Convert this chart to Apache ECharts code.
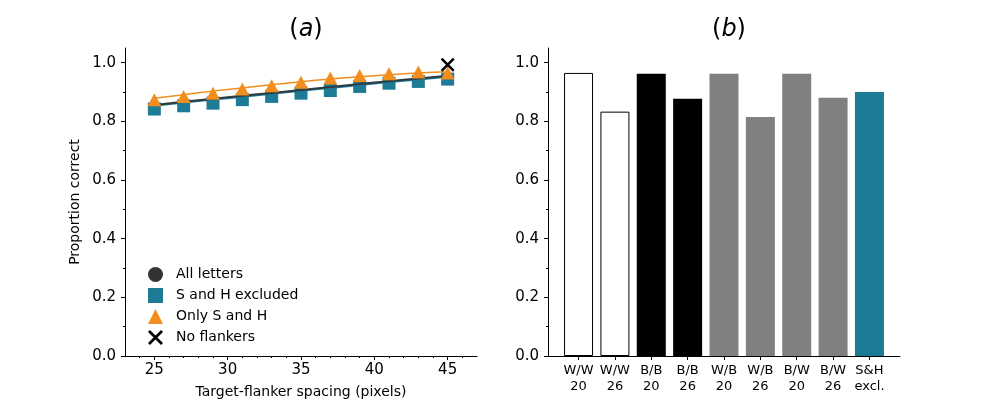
<!DOCTYPE html>
<html>
<head>
<meta charset="utf-8">
<script src="https://cdn.jsdelivr.net/npm/echarts@6/dist/echarts.min.js"></script>
<style>
  html, body { margin: 0; padding: 0; background: #fff; }
  #chart { width: 1000px; height: 400px; }
</style>
</head>
<body>
<div id="chart"></div>
<script>
// panel (a): spacing in pixels
const spacing = [25, 27, 29, 31, 33, 35, 37, 39, 41, 43, 45]
const shExcluded = [0.842, 0.853, 0.862, 0.874, 0.885, 0.896, 0.905, 0.919, 0.930, 0.936, 0.944]
const onlySH = [0.874, 0.885, 0.896, 0.910, 0.921, 0.933, 0.948, 0.956, 0.962, 0.968, 0.965]
const fitAll = [0.856, 0.867, 0.877, 0.887, 0.897, 0.907, 0.917, 0.927, 0.937, 0.946, 0.955]
const fitExcluded = [0.853, 0.864, 0.874, 0.884, 0.894, 0.904, 0.914, 0.924, 0.934, 0.943, 0.952]
const fitOnly = [0.879, 0.891, 0.903, 0.914, 0.925, 0.935, 0.944, 0.952, 0.959, 0.965, 0.969]
const noFlankers = [[45, 0.993]]

// panel (b)
const barLabels = ['W/W\n20', 'W/W\n26', 'B/B\n20', 'B/B\n26', 'W/B\n20', 'W/B\n26', 'B/W\n20', 'B/W\n26', 'S&H\nexcl.']
const barValues = [0.965, 0.833, 0.962, 0.877, 0.962, 0.815, 0.962, 0.880, 0.900]
const barKinds = ['white', 'white', 'black', 'black', 'gray', 'gray', 'gray', 'gray', 'teal']

const yMajor = [0, 0.2, 0.4, 0.6, 0.8, 1.0]
const yMinor = [0.1, 0.3, 0.5, 0.7, 0.9]
const xMajor = [25, 30, 35, 40, 45]
const xMinor = [24, 26, 27, 28, 29, 31, 32, 33, 34, 36, 37, 38, 39, 41, 42, 43, 44, 46]

const TEAL = '#1d7b96'
const ORANGE = '#f28e1e'
const FONT = 'DejaVu Sans'
const CROSS = 'path://M0,1.3L1.3,0L10,8.7L8.7,10Z M8.7,0L10,1.3L1.3,10L0,8.7Z'

const chart = echarts.init(document.getElementById('chart'))

function yAxes(gridIndex, name) {
  return [
    {
      gridIndex: gridIndex,
      type: 'value',
      min: 0,
      max: 1.05,
      name: name,
      nameLocation: 'middle',
      nameGap: 43,
      nameTextStyle: { fontFamily: FONT, fontSize: 14, color: '#000' },
      axisLine: { show: true, onZero: false, lineStyle: { color: '#000', width: 1 } },
      axisTick: { show: true, customValues: yMajor, length: 4, lineStyle: { color: '#000' } },
      axisLabel: {
        customValues: yMajor,
        fontFamily: FONT, fontSize: 15, color: '#000', margin: 9,
        formatter: (v) => v.toFixed(1)
      },
      splitLine: { show: false }
    },
    {
      gridIndex: gridIndex,
      type: 'value',
      position: 'left',
      min: 0,
      max: 1.05,
      axisLine: { show: false, onZero: false },
      axisTick: { show: true, customValues: yMinor, length: 2, lineStyle: { color: '#000' } },
      axisLabel: { show: false },
      splitLine: { show: false }
    }
  ]
}

const barColors = { white: '#ffffff', black: '#000000', gray: '#808080', teal: TEAL }

function panelTitle(letter, x) {
  return {
    text: '{p|(}{i|' + letter + '}{p|)}',
    left: x, top: 13, textAlign: 'center',
    textStyle: {
      rich: {
        p: { fontSize: 24, fontFamily: FONT, fontWeight: 'normal', color: '#000' },
        i: { fontSize: 24, fontFamily: FONT, fontWeight: 'normal', fontStyle: 'italic', color: '#000' }
      }
    }
  }
}

const option = {
  animation: false,
  backgroundColor: '#fff',
  textStyle: { fontFamily: FONT },
  title: [panelTitle('a', 301), panelTitle('b', 724)],
  legend: {
    orient: 'vertical',
    left: 143,
    top: 262,
    itemWidth: 15,
    itemHeight: 15,
    itemGap: 6,
    textStyle: { fontFamily: FONT, fontSize: 14, color: '#000', padding: [0, 0, 0, 8] },
    data: [
      { name: 'All letters', icon: 'circle', itemStyle: { color: '#333333' } },
      { name: 'S and H excluded', icon: 'rect', itemStyle: { color: TEAL } },
      { name: 'Only S and H', icon: 'triangle', itemStyle: { color: ORANGE } },
      { name: 'No flankers', icon: CROSS, itemStyle: { color: '#000' } }
    ]
  },
  grid: [
    { left: 125, top: 48, width: 352, height: 308, outerBoundsMode: 'none' },
    { left: 548, top: 48, width: 352, height: 308, outerBoundsMode: 'none' }
  ],
  xAxis: [
    {
      gridIndex: 0,
      type: 'value',
      min: 23,
      max: 47,
      name: 'Target-flanker spacing (pixels)',
      nameLocation: 'middle',
      nameGap: 29,
      nameTextStyle: { fontFamily: FONT, fontSize: 14, color: '#000' },
      axisLine: { show: true, onZero: false, lineStyle: { color: '#000', width: 1 } },
      axisTick: { show: true, customValues: xMajor, length: 4, lineStyle: { color: '#000' } },
      axisLabel: { customValues: xMajor, fontFamily: FONT, fontSize: 15, color: '#000', margin: 7 },
      splitLine: { show: false }
    },
    {
      gridIndex: 0,
      type: 'value',
      position: 'bottom',
      min: 23,
      max: 47,
      axisLine: { show: false, onZero: false },
      axisTick: { show: true, customValues: xMinor, length: 2, lineStyle: { color: '#000' } },
      axisLabel: { show: false },
      splitLine: { show: false }
    },
    {
      gridIndex: 1,
      type: 'value',
      min: -0.84,
      max: 8.84,
      axisLine: { show: true, onZero: false, lineStyle: { color: '#000', width: 1 } },
      axisTick: { show: true, customValues: [0, 1, 2, 3, 4, 5, 6, 7, 8], length: 4, lineStyle: { color: '#000' } },
      axisLabel: {
        customValues: [0, 1, 2, 3, 4, 5, 6, 7, 8],
        fontFamily: FONT, fontSize: 13, color: '#000', lineHeight: 16, margin: 7,
        formatter: (v) => barLabels[Math.round(v)]
      },
      splitLine: { show: false }
    }
  ],
  yAxis: yAxes(0, 'Proportion correct').concat(yAxes(1, '')),
  series: [
    {
      name: 'S and H excluded',
      type: 'scatter',
      xAxisIndex: 0, yAxisIndex: 0,
      symbol: 'rect',
      symbolSize: 13,
      itemStyle: { color: TEAL, opacity: 1 },
      data: spacing.map((x, i) => [x, shExcluded[i]]),
      z: 2
    },
    {
      name: 'S and H excluded fit',
      type: 'line',
      xAxisIndex: 0, yAxisIndex: 0,
      smooth: true,
      showSymbol: false,
      lineStyle: { color: TEAL, width: 2 },
      data: spacing.map((x, i) => [x, fitExcluded[i]]),
      z: 3
    },
    {
      name: 'All letters',
      type: 'line',
      xAxisIndex: 0, yAxisIndex: 0,
      smooth: true,
      showSymbol: false,
      itemStyle: { color: '#333333' },
      lineStyle: { color: '#2f3b40', width: 2 },
      data: spacing.map((x, i) => [x, fitAll[i]]),
      z: 3
    },
    {
      name: 'Only S and H',
      type: 'scatter',
      xAxisIndex: 0, yAxisIndex: 0,
      symbol: 'triangle',
      symbolSize: [14, 13],
      itemStyle: { color: ORANGE, opacity: 1 },
      data: spacing.map((x, i) => [x, onlySH[i]]),
      z: 4
    },
    {
      name: 'Only S and H fit',
      type: 'line',
      xAxisIndex: 0, yAxisIndex: 0,
      smooth: true,
      showSymbol: false,
      lineStyle: { color: ORANGE, width: 1.5 },
      data: spacing.map((x, i) => [x, fitOnly[i]]),
      z: 5
    },
    {
      name: 'No flankers',
      type: 'scatter',
      xAxisIndex: 0, yAxisIndex: 0,
      symbol: CROSS,
      symbolSize: 14,
      itemStyle: { color: '#000', opacity: 1 },
      data: noFlankers,
      z: 6
    },
    {
      name: 'bars',
      type: 'bar',
      xAxisIndex: 2, yAxisIndex: 2,
      barWidth: 29,
      data: barValues.map((v, i) => ({
        value: [i, v],
        itemStyle: {
          color: barColors[barKinds[i]],
          borderColor: barKinds[i] === 'white' ? '#000' : barColors[barKinds[i]],
          borderWidth: barKinds[i] === 'white' ? 1 : 0
        }
      }))
    }
  ]
}

chart.setOption(option)
</script>
</body>
</html>
